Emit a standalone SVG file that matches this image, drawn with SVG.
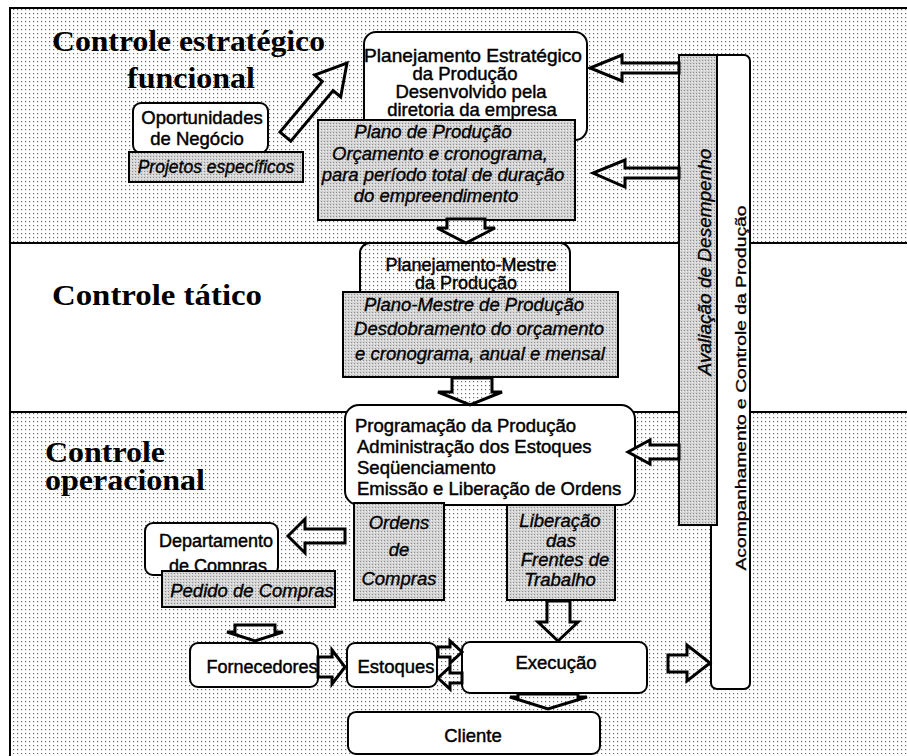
<svg xmlns="http://www.w3.org/2000/svg" width="907" height="756" viewBox="0 0 907 756">
<defs>
<pattern id="dots" x="0" y="0" width="4" height="4" patternUnits="userSpaceOnUse">
<rect width="4" height="4" fill="#ffffff"/>
<rect x="1" y="1" width="1.2" height="1.2" fill="#6a6a6a"/>
</pattern>
<pattern id="gray" x="0" y="0" width="3" height="3" patternUnits="userSpaceOnUse">
<rect width="3" height="3" fill="#d4d4d4"/>
<rect x="0" y="0" width="1" height="1" fill="#8c8c8c"/>
<rect x="2" y="1" width="1" height="1" fill="#eeeeee"/>
</pattern>
</defs>
<style>
.band{fill:url(#dots);stroke:none}
.frame{stroke:#000;stroke-width:2;fill:none}
.wbox{fill:#fff;stroke:#000;stroke-width:2}
.dbox{fill:url(#dots);stroke:#000;stroke-width:2}
.gbox{fill:url(#gray);stroke:#000;stroke-width:2}
.arrow{fill:url(#dots);stroke:#000;stroke-width:3;stroke-linejoin:miter}
.t{font-family:"Liberation Sans",Arial,sans-serif;font-size:18.5px;fill:#000;stroke:#000;stroke-width:0.45;text-anchor:middle}
.ti{font-family:"Liberation Sans",Arial,sans-serif;font-size:18.5px;font-style:italic;fill:#000;stroke:#000;stroke-width:0.35;text-anchor:middle}
.tl{text-anchor:start}
.title{font-family:"Liberation Serif","Times New Roman",serif;font-size:30px;font-weight:bold;fill:#000}
</style>

<!-- background bands -->
<g id="bands">
<rect x="10" y="8" width="897" height="235" class="band"/>
<rect x="10" y="243" width="897" height="169" fill="#ffffff"/>
<rect x="10" y="412" width="897" height="342" class="band"/>
<line x1="9" y1="8" x2="907" y2="8" class="frame"/>
<line x1="10" y1="7" x2="10" y2="756" class="frame"/>
<line x1="10" y1="243" x2="907" y2="243" class="frame"/>
<line x1="10" y1="412" x2="907" y2="412" class="frame"/>
</g>

<g id="titles">
<text x="52" y="51" class="title" textLength="273" lengthAdjust="spacingAndGlyphs">Controle estratégico</text>
<text x="127" y="88" class="title" textLength="128" lengthAdjust="spacingAndGlyphs">funcional</text>
<text x="52" y="305" class="title" textLength="210" lengthAdjust="spacingAndGlyphs">Controle tático</text>
<text x="45" y="462" class="title" textLength="120" lengthAdjust="spacingAndGlyphs">Controle</text>
<text x="45" y="490" class="title" textLength="160" lengthAdjust="spacingAndGlyphs">operacional</text>
</g>

<g id="acompanhamento">
<rect x="711" y="55" width="39" height="634" rx="6" class="wbox"/>
<text transform="translate(746,388) rotate(-90)" class="t" style="font-size:14.5px;stroke-width:0.3" textLength="365" lengthAdjust="spacingAndGlyphs">Acompanhamento e Controle  da  Produção</text>
</g>

<g id="avaliacao">
<rect x="679" y="55" width="38" height="470" class="gbox"/>
<text transform="translate(711,262) rotate(-90)" class="ti" style="font-size:19px">Avaliação de Desempenho</text>
</g>

<g id="planejamento-estrategico">
<rect x="364" y="32" width="223" height="108" rx="12" class="wbox"/>
<text x="473" y="62" class="t" textLength="218" lengthAdjust="spacingAndGlyphs">Planejamento Estratégico</text>
<text x="465" y="80" class="t">da Produção</text>
<text x="471" y="98" class="t">Desenvolvido pela</text>
<text x="472" y="116" class="t">diretoria da empresa</text>
</g>

<g id="plano-producao">
<rect x="318" y="120" width="257" height="100" class="gbox"/>
<text x="433" y="138" class="ti">Plano de Produção</text>
<text x="440" y="160" class="ti">Orçamento e cronograma,</text>
<text x="443" y="181" class="ti">para período total de duração</text>
<text x="436" y="202" class="ti">do empreendimento</text>
</g>

<g id="oportunidades">
<rect x="133" y="103" width="135" height="50" rx="8" class="wbox"/>
<text x="202" y="124" class="t">Oportunidades</text>
<text x="197" y="145" class="t">de Negócio</text>
</g>

<g id="projetos">
<rect x="129" y="152" width="174" height="30" class="gbox"/>
<text x="216" y="173" class="ti" style="font-size:17.5px">Projetos específicos</text>
</g>

<g id="planejamento-mestre">
<rect x="360" y="243" width="210" height="60" rx="10" class="dbox"/>
<text x="471" y="271" class="t" style="font-size:18px">Planejamento-Mestre</text>
<text x="466" y="289" class="t" style="font-size:18px">da Produção</text>
</g>

<g id="plano-mestre">
<rect x="343" y="292" width="275" height="85" class="gbox"/>
<text x="474" y="311" class="ti">Plano-Mestre de Produção</text>
<text x="479" y="335" class="ti">Desdobramento do orçamento</text>
<text x="480" y="360" class="ti">e cronograma, anual e mensal</text>
</g>

<g id="programacao">
<rect x="345" y="405" width="290" height="100" rx="14" class="wbox"/>
<text x="355" y="432" class="t tl">Programação da Produção</text>
<text x="357" y="453" class="t tl">Administração dos Estoques</text>
<text x="357" y="474" class="t tl">Seqüenciamento</text>
<text x="357" y="495" class="t tl">Emissão e Liberação de Ordens</text>
</g>

<g id="ordens">
<rect x="354" y="503" width="90" height="97" class="gbox"/>
<text x="399" y="529" class="ti">Ordens</text>
<text x="399" y="556" class="ti">de</text>
<text x="399" y="585" class="ti">Compras</text>
</g>

<g id="liberacao">
<rect x="507" y="505" width="108" height="95" class="gbox"/>
<text x="560" y="527" class="ti">Liberação</text>
<text x="561" y="547" class="ti">das</text>
<text x="565" y="566" class="ti">Frentes de</text>
<text x="560" y="586" class="ti">Trabalho</text>
</g>

<g id="departamento">
<rect x="145" y="523" width="133" height="52" rx="8" class="wbox"/>
<text x="216" y="547" class="t" style="font-size:18px">Departamento</text>
<text x="218" y="572" class="t" style="font-size:18px">de Compras</text>
</g>

<g id="pedido">
<rect x="162" y="571" width="173" height="36" class="gbox"/>
<text x="252" y="597" class="ti">Pedido de Compras</text>
</g>

<g id="fornecedores">
<rect x="190" y="643" width="128" height="44" rx="8" class="wbox"/>
<text x="262" y="673" class="t" style="font-size:18px">Fornecedores</text>
</g>

<g id="estoques">
<rect x="347" y="643" width="90" height="44" rx="8" class="wbox"/>
<text x="396" y="673" class="t">Estoques</text>
</g>

<g id="execucao">
<rect x="462" y="642" width="185" height="51" rx="8" class="wbox"/>
<text x="556" y="669" class="t">Execução</text>
</g>

<g id="cliente">
<rect x="348" y="712" width="252" height="42" rx="8" class="wbox"/>
<text x="473" y="742" class="t">Cliente</text>
</g>

<g id="connectors">
<!-- Oportunidades -> Planejamento Estrategico -->
<polygon class="arrow" points="347,63 340.7,96.9 333.1,90.5 290.8,141.1 280,132.1 322.3,81.5 314.7,75.1"/>
<!-- Avaliacao -> Planejamento Estrategico -->
<polygon class="arrow" points="679,63 622,63 622,55 590,68 622,81 622,73 679,73"/>
<!-- Avaliacao -> Plano de Producao -->
<polygon class="arrow" points="679,168 625,168 625,160 593,173 625,187 625,178 679,178"/>
<!-- Avaliacao -> Programacao -->
<polygon class="arrow" points="679,445 650,445 650,440 628,452 650,464 650,459 679,459"/>
<!-- Plano -> Planejamento-Mestre -->
<polygon class="arrow" points="447,219 485,219 485,228 495,228 466,243 437,228 447,228"/>
<!-- Plano-Mestre -> Programacao -->
<polygon class="arrow" points="452,378 492,378 492,392 502,392 470,405 438,392 452,392"/>
<!-- Ordens -> Departamento -->
<polygon class="arrow" points="345,529 305,529 305,519 288,536 305,553 305,543 345,543"/>
<!-- Pedido -> Fornecedores -->
<polygon class="arrow" points="235,625 275,625 275,632 283,632 255,641 227,632 235,632"/>
<!-- Fornecedores -> Estoques -->
<polygon class="arrow" points="318,657 332,657 332,650 345,667 332,684 332,677 318,677"/>
<!-- Estoques -> Execucao -->
<polygon class="arrow" points="438,647 450,647 450,641 462,652 450,663 450,657 438,657"/>
<!-- Execucao -> Estoques -->
<polygon class="arrow" points="462,673 450,673 450,667 438,678 450,689 450,683 462,683"/>
<!-- Liberacao -> Execucao -->
<polygon class="arrow" points="547,601 570,601 570,622 578,622 558,641 538,622 547,622"/>
<!-- Execucao -> Cliente -->
<polygon class="arrow" points="518,694 578,694 578,697 587,697 548,709 510,697 518,697"/>
<!-- Execucao -> Acompanhamento -->
<polygon class="arrow" points="668,655 687,655 687,645 710,663 687,681 687,672 668,672"/>
</g>
</svg>
